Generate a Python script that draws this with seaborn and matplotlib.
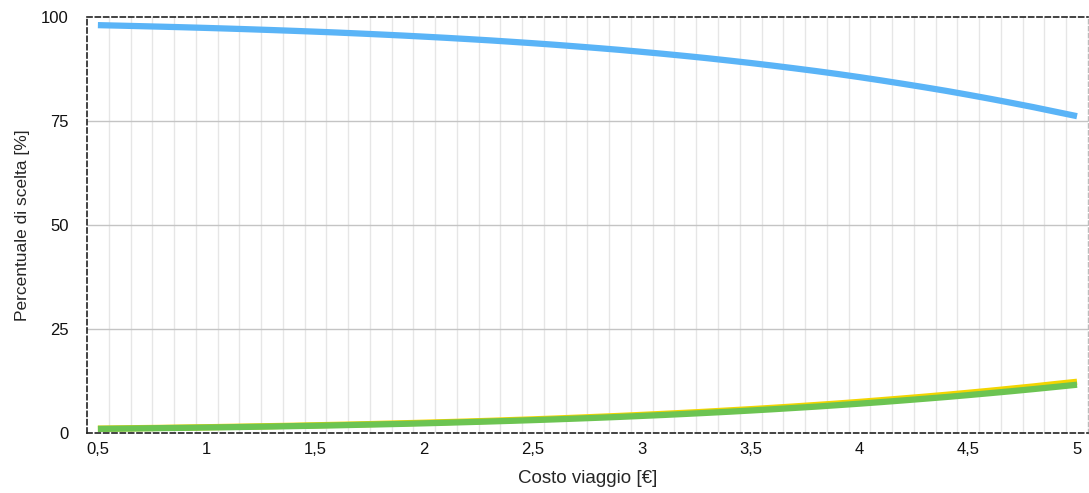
import numpy as np
import pandas as pd
import matplotlib
matplotlib.use("Agg")
import matplotlib.pyplot as plt
import seaborn as sns

# Costo viaggio [€], step 0.1
costo = [0.5, 0.6, 0.7, 0.8, 0.9, 1.0, 1.1, 1.2, 1.3, 1.4,
         1.5, 1.6, 1.7, 1.8, 1.9, 2.0, 2.1, 2.2, 2.3, 2.4,
         2.5, 2.6, 2.7, 2.8, 2.9, 3.0, 3.1, 3.2, 3.3, 3.4,
         3.5, 3.6, 3.7, 3.8, 3.9, 4.0, 4.1, 4.2, 4.3, 4.4,
         4.5, 4.6, 4.7, 4.8, 4.9, 5.0]

# percentuale di scelta [%]
blu = [98.10, 97.98, 97.85, 97.72, 97.58, 97.43, 97.27, 97.10, 96.92, 96.73,
       96.53, 96.32, 96.09, 95.85, 95.60, 95.33, 95.05, 94.75, 94.44, 94.10,
       93.75, 93.38, 92.98, 92.57, 92.14, 91.67, 91.19, 90.68, 90.15, 89.58,
       88.99, 88.37, 87.72, 87.05, 86.34, 85.59, 84.80, 83.98, 83.14, 82.27,
       81.34, 80.38, 79.38, 78.36, 77.27, 76.19]
giallo = [0.98, 1.04, 1.11, 1.17, 1.25, 1.32, 1.41, 1.49, 1.59, 1.68,
          1.79, 1.90, 2.01, 2.14, 2.27, 2.41, 2.55, 2.70, 2.86, 3.04,
          3.22, 3.41, 3.62, 3.83, 4.05, 4.29, 4.54, 4.80, 5.07, 5.37,
          5.67, 5.99, 6.32, 6.67, 7.03, 7.42, 7.83, 8.25, 8.68, 9.13,
          9.61, 10.10, 10.62, 11.14, 11.71, 12.26]
verde = [0.92, 0.98, 1.04, 1.11, 1.17, 1.25, 1.32, 1.41, 1.49, 1.59,
         1.68, 1.78, 1.90, 2.01, 2.13, 2.26, 2.40, 2.55, 2.70, 2.86,
         3.03, 3.21, 3.40, 3.60, 3.81, 4.04, 4.27, 4.52, 4.78, 5.05,
         5.34, 5.64, 5.96, 6.28, 6.63, 6.99, 7.37, 7.77, 8.18, 8.60,
         9.05, 9.52, 10.00, 10.50, 11.02, 11.55]

xticks = [0.5, 1, 1.5, 2, 2.5, 3, 3.5, 4, 4.5, 5]
xtick_labels = ["0,5", "1", "1,5", "2", "2,5", "3", "3,5", "4", "4,5", "5"]
yticks = [0, 25, 50, 75, 100]

df = pd.DataFrame({"costo": costo, "blu": blu, "giallo": giallo, "verde": verde})

sns.set_style("white")
plt.rcParams['font.family'] = ['Liberation Sans', 'DejaVu Sans']

fig = plt.figure(figsize=(10.89, 4.93), dpi=100)
ax = fig.add_axes([0.0799, 0.1223, 0.9191, 0.8427])

# light vertical grid between the cost steps
for xv in np.arange(0.55, 5.0, 0.1):
    ax.axvline(xv, color='#e6e6e6', lw=1, zorder=0)
for yv in [25, 50, 75]:
    ax.axhline(yv, color='#c4c4c4', lw=1, zorder=0)

line_kw = dict(lw=4.5, solid_capstyle='butt', solid_joinstyle='round')
sns.lineplot(data=df, x="costo", y="blu", ax=ax, color='#5ab4f7', zorder=3, **line_kw)
sns.lineplot(data=df, x="costo", y="giallo", ax=ax, color='#f3d500', zorder=3, **line_kw)
sns.lineplot(data=df, x="costo", y="verde", ax=ax, color='#6cc452', zorder=4, **line_kw)

ax.set_xlim(0.45, 5.05)
ax.set_ylim(0, 100)
ax.set_xticks(xticks)
ax.set_xticklabels(xtick_labels)
ax.set_yticks(yticks)
ax.tick_params(axis='both', length=0, labelsize=12, colors='#111111')
ax.tick_params(axis='x', pad=7)
ax.tick_params(axis='y', pad=13)
ax.set_xlabel("Costo viaggio [€]", fontsize=13.5, labelpad=9)
ax.set_ylabel("Percentuale di scelta [%]", fontsize=12.5, labelpad=8)

for side in ['left', 'top', 'bottom']:
    ax.spines[side].set_visible(True)
    ax.spines[side].set_color('#222222')
    ax.spines[side].set_linestyle((0, (3, 2)))
    ax.spines[side].set_linewidth(1.2)
ax.spines['right'].set_color('#bbbbbb')
ax.spines['right'].set_linestyle((0, (3, 2)))
ax.spines['right'].set_linewidth(1.0)

fig.savefig("out.png", dpi=100)
